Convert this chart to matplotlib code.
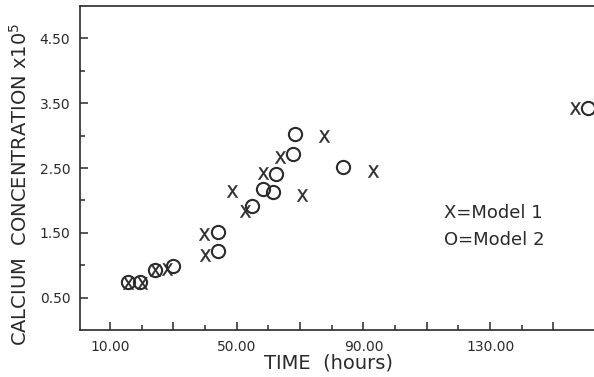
"""
Calcium concentration vs time, two models (scatter of X and O marks).
"""
import matplotlib

matplotlib.use("Agg")
import matplotlib.pyplot as plt

# Model 1 (X marks): time in hours, concentration x10^5
model1_time = [15.8, 20.0, 24.2, 27.9, 39.5, 40.0, 48.4, 52.6, 58.4, 63.7, 70.5, 77.4, 93.0, 156.8]
model1_conc = [0.72, 0.72, 0.92, 0.94, 1.48, 1.16, 2.14, 1.83, 2.43, 2.67, 2.08, 2.99, 2.46, 3.42]

# Model 2 (O marks)
model2_time = [15.8, 19.5, 24.2, 30.0, 44.2, 44.2, 54.7, 58.4, 61.4, 62.3, 67.9, 68.4, 83.7, 160.9]
model2_conc = [0.74, 0.74, 0.93, 0.99, 1.22, 1.52, 1.91, 2.17, 2.13, 2.40, 2.72, 3.03, 2.51, 3.42]

x_major = [10, 30, 50, 70, 90, 110, 130, 150]
x_labels = ["10.00", "", "50.00", "", "90.00", "", "130.00", ""]
x_minor = [20, 40, 60, 80, 100, 120, 140]
y_major = [0.5, 1.5, 2.5, 3.5, 4.5]
y_labels = ["0.50", "1.50", "2.50", "3.50", "4.50"]
y_minor = [1.0, 2.0, 3.0, 4.0]

INK = "#2a2a2a"

plt.rcParams["font.family"] = ["DejaVu Sans"]
plt.rcParams["mathtext.fontset"] = "dejavusans"

fig = plt.figure(figsize=(5.94, 3.77), dpi=100)
ax = fig.add_axes([80 / 594, 1 - 330 / 377, 514 / 594, 324 / 377])

ax.plot(model1_time, model1_conc, linestyle="none", marker=r"$\mathsf{X}$",
        ms=8.8, mew=0.3, color=INK)
ax.plot(model2_time, model2_conc, linestyle="none", marker="o", ms=9.5,
        mew=1.5, mfc="none", mec=INK)

ax.set_xlim(0.5, 162.8)
ax.set_ylim(0, 5.0)

ax.set_xticks(x_major)
ax.set_xticklabels(x_labels)
ax.set_xticks(x_minor, minor=True)
ax.set_yticks(y_major)
ax.set_yticklabels(y_labels)
ax.set_yticks(y_minor, minor=True)

ax.tick_params(which="both", direction="in", color=INK, width=1.1,
               labelsize=10, labelcolor=INK)
ax.tick_params(which="major", length=5.5, pad=7)
ax.tick_params(which="minor", length=3.5)
ax.spines["right"].set_visible(False)
for s in ("left", "bottom", "top"):
    ax.spines[s].set_linewidth(1.2)
    ax.spines[s].set_color(INK)

ax.set_xlabel("TIME  (hours)", fontsize=14, color=INK)
ax.xaxis.set_label_coords(0.4825, -0.072)
ax.set_ylabel("CALCIUM  CONCENTRATION x10$^{5}$", fontsize=14, color=INK)
ax.yaxis.set_label_coords(-0.095, 0.45)

ax.text(0.708, 0.361, "X=Model 1", transform=ax.transAxes, fontsize=13,
        color=INK, va="center", ha="left")
ax.text(0.708, 0.278, "O=Model 2", transform=ax.transAxes, fontsize=13,
        color=INK, va="center", ha="left")

fig.savefig("out.png", dpi=100)
